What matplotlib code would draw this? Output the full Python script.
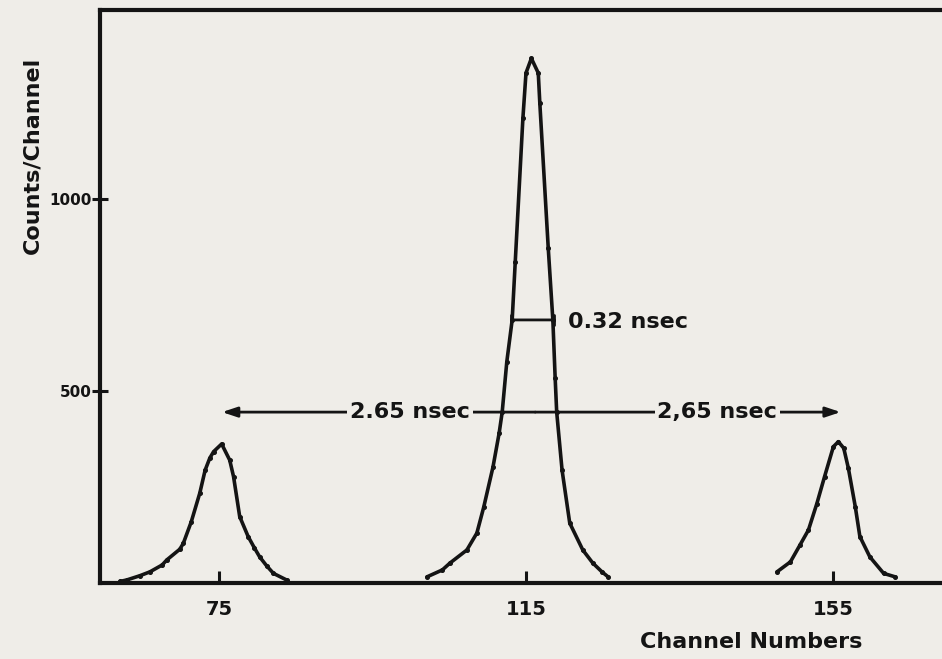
import matplotlib
matplotlib.use("Agg")
import matplotlib.pyplot as plt

# ---- data ----
left_x = [62.1, 63.0, 64.7, 66.0, 67.6, 68.2, 69.9, 70.35, 71.4, 72.5, 73.2, 73.8, 74.3,
          75.35, 76.4, 76.9, 77.7, 78.8, 79.6, 80.3, 81.2, 82.1, 83.8]
left_y = [4, 8, 19, 29, 47, 60, 88, 103, 160, 234, 294, 325, 342,
          362, 320, 277, 173, 121, 92, 68, 45, 25, 8]

center_x = [102.1, 104.1, 105.1, 107.3, 108.6, 109.5, 110.7, 111.5, 111.9, 112.5, 113.2,
            113.6, 114.6, 115.0, 115.7, 116.6, 116.8, 117.9, 118.5, 118.8, 119.0, 119.7,
            120.7, 122.4, 123.7, 124.9, 125.7]
center_y = [16, 34, 52, 86, 130, 198, 302, 390, 445, 576, 685,
            836, 1211, 1328, 1366, 1328, 1250, 872, 685, 534, 445, 294,
            156, 86, 52, 29, 16]

right_x = [147.7, 149.45, 150.7, 151.8, 152.9, 153.9, 155.05, 155.7, 156.4, 157.0, 157.9,
           158.5, 159.8, 161.6, 163.1]
right_y = [29, 55, 99, 138, 207, 277, 355, 368, 351, 299, 199,
           121, 68, 25, 16]

x_ticks = [75, 115, 155]
y_ticks = [500, 1000]

fwhm_label = "0.32 nsec"
sep_label_left = "2.65 nsec"
sep_label_right = "2,65 nsec"
x_label = "Channel Numbers"
y_label = "Counts/Channel"

# ---- drawing ----
bg = "#efede8"
ink = "#141414"

fig = plt.figure(figsize=(9.42, 6.59), dpi=100, facecolor=bg)
ax = fig.add_axes([100 / 942, 1 - 583 / 659, 1 - 100 / 942, (583 - 10) / 659])
ax.set_facecolor(bg)

for xs, ys in [(left_x, left_y), (center_x, center_y), (right_x, right_y)]:
    ax.plot(xs, ys, color=ink, lw=2.6, marker="o", ms=2.6, solid_capstyle="round",
            solid_joinstyle="round")

ax.set_xlim(59.5, 169.2)
ax.set_ylim(0, 1492)

ax.spines["right"].set_visible(False)
for s in ["left", "top", "bottom"]:
    ax.spines[s].set_linewidth(3.0)
    ax.spines[s].set_color(ink)

ax.set_xticks(x_ticks)
ax.set_xticklabels([str(v) for v in x_ticks], fontsize=14, fontweight="bold", color=ink)
ax.set_yticks(y_ticks)
ax.set_yticklabels([str(v) for v in y_ticks], fontsize=11, fontweight="bold", color=ink)
ax.tick_params(axis="x", direction="in", length=9, width=2.2, pad=12, colors=ink)
ax.tick_params(axis="y", direction="inout", length=12, width=2.2, pad=0, colors=ink)

ax.set_xlabel(x_label, fontsize=16, fontweight="bold", color=ink)
ax.xaxis.set_label_coords((751 - 100) / 842, -(632 - 583) / 573)
ax.set_ylabel(y_label, fontsize=16, fontweight="bold", color=ink)
ax.yaxis.set_label_coords(-(100 - 42) / 842, (583 - 155) / 573)

# FWHM marker
ax.annotate("", xy=(113.1, 685), xytext=(118.6, 685),
            arrowprops=dict(arrowstyle="|-|,widthA=0.35,widthB=0.35", color=ink, lw=2.0,
                            shrinkA=0, shrinkB=0))
ax.text(120.5, 680, fwhm_label, fontsize=16, fontweight="bold", color=ink,
        ha="left", va="center")

# separation arrows
y_arr = 445
x_mid = 116.2
x_left_end = 75.4
x_right_end = 156.0
arrow_kw = dict(arrowstyle="-|>,head_length=0.9,head_width=0.3", color=ink, lw=2.0,
                shrinkA=0, shrinkB=0)
ax.annotate("", xy=(x_left_end, y_arr), xytext=(x_mid, y_arr), arrowprops=arrow_kw)
ax.annotate("", xy=(x_right_end, y_arr), xytext=(x_mid, y_arr), arrowprops=arrow_kw)
ax.text(99.9, y_arr, sep_label_left, fontsize=16, fontweight="bold", color=ink,
        ha="center", va="center",
        bbox=dict(boxstyle="square,pad=0.12", fc=bg, ec="none"))
ax.text(139.9, y_arr, sep_label_right, fontsize=16, fontweight="bold", color=ink,
        ha="center", va="center",
        bbox=dict(boxstyle="square,pad=0.12", fc=bg, ec="none"))

fig.savefig("out.png", dpi=100, facecolor=bg)
